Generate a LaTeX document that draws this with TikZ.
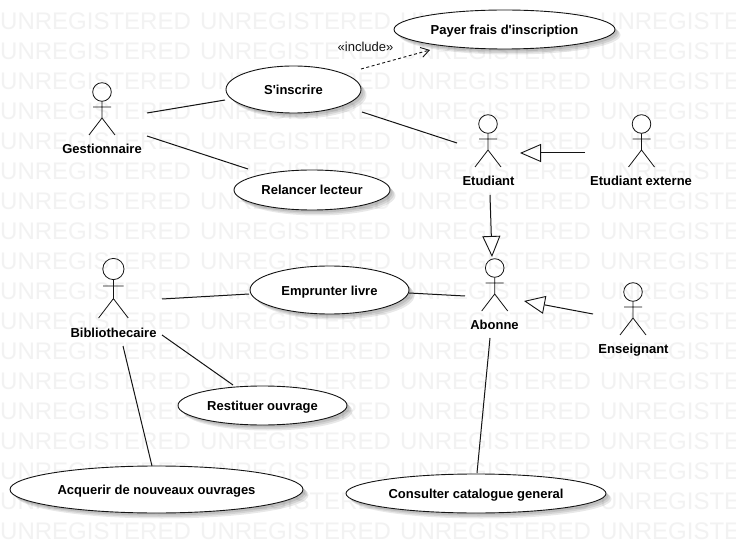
\documentclass[tikz,border=0pt]{standalone}
\usepackage{fontspec}
\setmainfont{Liberation Sans}
\usetikzlibrary{arrows.meta,shadows,shapes.geometric}
\definecolor{wm}{gray}{0.95}
\definecolor{ink}{gray}{0.08}
\tikzset{
  x=1pt,y=-1pt,
  wmark/.style={text=wm,font=\fontsize{24}{24}\selectfont,inner sep=0pt,anchor=west},
  softshadow/.style={drop shadow={shadow xshift=#1,shadow yshift=-#1,fill=black,opacity=0.09}},
  usecase/.style={ellipse,draw=ink,line width=0.9pt,fill=white,inner sep=0pt,
    font=\fontsize{13}{13}\selectfont\bfseries,text=black,text height=10.5pt,text depth=0.5pt,
    softshadow=5.5pt,softshadow=4pt,softshadow=2.5pt},
  actorlabel/.style={font=\fontsize{13}{13}\selectfont\bfseries,text=black,inner sep=0pt,text height=11pt,text depth=0.5pt},
  limb/.style={draw=ink,line width=0.8pt},
  assoc/.style={draw=ink,line width=1pt},
  gen/.style={draw=ink,line width=1pt,-{Triangle[open,length=21pt,width=18pt,line width=0.9pt,color=ink]}},
  incl/.style={draw=ink,line width=0.9pt,dash pattern=on 3pt off 2.5pt,-{Straight Barb[length=8pt,width=10pt,line width=0.9pt]}},
}
% \actorfig{name}{x of head}{y of head}{scale}
\newcommand{\actorfig}[4]{%
  \begin{scope}[shift={(#2,#3)},scale=#4]
    \node[circle,limb,minimum size=18.6*#4 pt,inner sep=0pt] (#1) at (0,0) {};
    \draw[limb] (0,9.3)--(0,26) (-9,15)--(9,15) (-13,43)--(0,26)--(13,43);
  \end{scope}}
\begin{document}
\begin{tikzpicture}
\useasboundingbox (0,0) rectangle (736,553);
\fill[white] (0,0) rectangle (736,553);
\foreach \r in {0,...,17}{
  \foreach \c in {0,...,3}{
    \node[wmark] at (200*\c,21+30*\r) {UNREGISTERED};
  }
}
% use cases
\node[usecase,minimum width=135pt,minimum height=47pt] (inscrire) at (293.5,89.5) {S\textquotesingle inscrire};
\node[usecase,minimum width=156pt,minimum height=40pt] (relancer) at (312,190) {Relancer lecteur};
\node[usecase,minimum width=221pt,minimum height=39pt] (payer) at (504.5,29.5) {Payer frais d\textquotesingle inscription};
\node[usecase,minimum width=159pt,minimum height=48pt] (emprunter) at (329.5,290) {Emprunter livre};
\node[usecase,minimum width=169pt,minimum height=39pt] (restituer) at (262.5,405.5) {Restituer ouvrage};
\node[usecase,minimum width=293pt,minimum height=47pt] (acquerir) at (156.5,489.5) {Acquerir de nouveaux ouvrages};
\node[usecase,minimum width=260pt,minimum height=39pt] (consulter) at (476,493.5) {Consulter catalogue general};
% actors
\actorfig{gest}{102}{92}{1}
\actorfig{etu}{488}{124}{1}
\actorfig{ext}{641.5}{124}{1}
\actorfig{abo}{494.7}{268}{1}
\actorfig{ens}{633}{292}{1}
\actorfig{bib}{113.4}{269}{1.14}
\node[actorlabel] (lgest) at (102,148.5) {Gestionnaire};
\node[actorlabel] (letu) at (488.5,180.5) {Etudiant};
\node[actorlabel] (lext) at (641,180.5) {Etudiant externe};
\node[actorlabel] (labo) at (494.5,324.5) {Abonne};
\node[actorlabel] (lens) at (633.5,348.5) {Enseignant};
\node[actorlabel] (lbib) at (113.5,332.5) {Bibliothecaire};
\node[font=\fontsize{13}{13}\selectfont,inner sep=0pt,text=ink] (linc) at (365.5,47) {«include»};
% connector ends
\coordinate (a1) at (147,113); \coordinate (a2) at (225,100);
\coordinate (b1) at (147,136); \coordinate (b2) at (248,169);
\coordinate (c1) at (362,112); \coordinate (c2) at (457,143);
\coordinate (d1) at (361,69); \coordinate (d2) at (430,50);
\coordinate (e1) at (585,153); \coordinate (e2) at (520,153);
\coordinate (f1) at (490,195); \coordinate (f2) at (492,257);
\coordinate (g1) at (593,314); \coordinate (g2) at (524,301);
\coordinate (h1) at (162,299); \coordinate (h2) at (249,294);
\coordinate (i1) at (409,293); \coordinate (i2) at (465,296);
\coordinate (j1) at (162,335); \coordinate (j2) at (233,385);
\coordinate (k1) at (123,346); \coordinate (k2) at (152,466);
\coordinate (l1) at (490,338); \coordinate (l2) at (477,473);
\draw[assoc] (a1)--(a2);
\draw[assoc] (b1)--(b2);
\draw[assoc] (c1)--(c2);
\draw[incl] (d1)--(d2);
\draw[gen] (e1)--(e2);
\draw[gen] (f1)--(f2);
\draw[gen] (g1)--(g2);
\draw[assoc] (h1)--(h2);
\draw[assoc] (i1)--(i2);
\draw[assoc] (j1)--(j2);
\draw[assoc] (k1)--(k2);
\draw[assoc] (l1)--(l2);
\end{tikzpicture}
\end{document}
